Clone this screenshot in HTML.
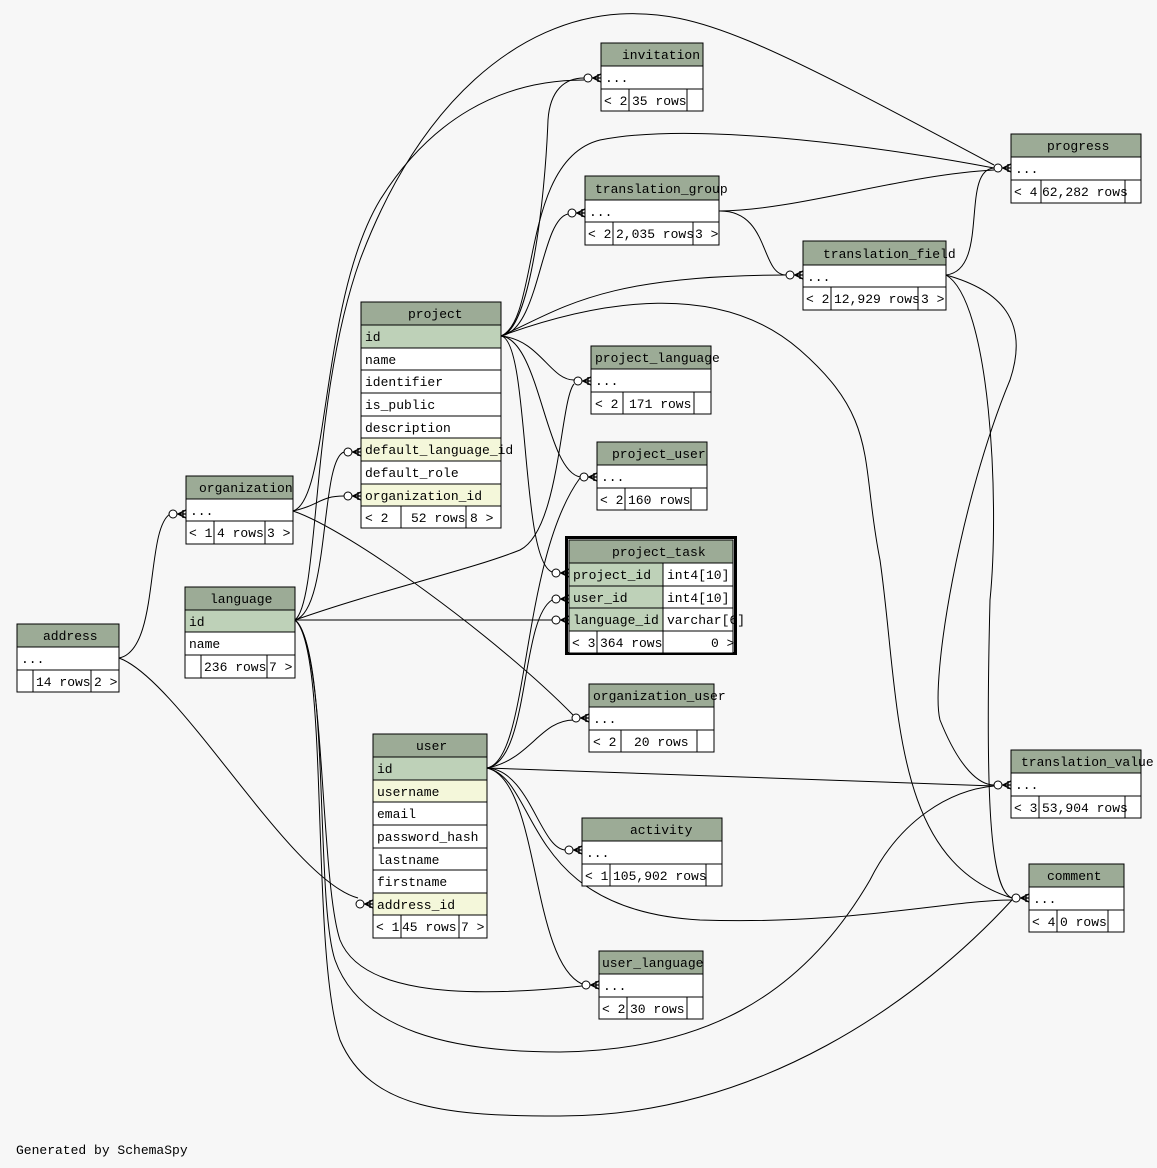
<!DOCTYPE html>
<html><head><meta charset="utf-8"><style>
html,body{margin:0;padding:0;background:#f7f7f7}
svg{display:block}
text{font-family:"Liberation Mono",monospace;font-size:13px;fill:#000}
.h{fill:#9cab96;stroke:#000;stroke-width:1}
.w{fill:#fff;stroke:#000;stroke-width:1}
.k{fill:#bed1b8;stroke:#000;stroke-width:1}
.f{fill:#f4f7da;stroke:#000;stroke-width:1}
.e{fill:none;stroke:#000;stroke-width:1}
</style></head><body>
<svg width="1157" height="1168" viewBox="0 0 1157 1168" xmlns="http://www.w3.org/2000/svg">
<defs>
<g id="m"><circle cx="-13" cy="0" r="4" fill="#fff" stroke="#000"/><path d="M-9,0 L0,0 M-8,0 L0,-4 M-8,0 L0,4 M-3,-4 L-3,4" stroke="#000" fill="none" stroke-width="1.3"/></g>
</defs>
<rect width="1157" height="1168" fill="#f7f7f7"/>
<g class="e">
<path d="M501,336 C530,330 545,200 548,120 C550,90 565,78 584,78"/>
<path d="M501,336 C540,320 520,160 600,140 C700,120 900,150 994,168"/>
<path d="M501,336 C540,330 540,220 568,214"/>
<path d="M501,336 C560,310 600,275 786,275"/>
<path d="M501,336 C540,340 550,380 574,380"/>
<path d="M501,336 C540,340 545,470 580,477"/>
<path d="M501,336 C530,340 520,560 552,572"/>
<path d="M501,336 C600,300 720,280 800,350 C880,420 860,460 880,560 C900,700 890,860 1012,898"/>
<path d="M293,511 C330,500 320,300 380,200 C430,120 500,80 584,80"/>
<path d="M293,511 C320,505 320,496 344,496"/>
<path d="M293,511 C350,530 500,640 574,716"/>
<path d="M295,620 C330,610 320,460 344,452"/>
<path d="M295,620 C380,590 470,570 520,550 C560,530 560,400 574,384"/>
<path d="M295,620 L552,620"/>
<path d="M295,620 C325,640 320,880 340,940 C360,990 450,1000 582,986"/>
<path d="M295,620 C320,600 310,400 360,260 C420,100 520,20 620,14 C700,10 760,40 994,165"/>
<path d="M295,620 C330,650 315,900 335,960 C360,1030 450,1052 560,1052 C700,1050 800,1000 870,880 C900,820 950,790 994,786"/>
<path d="M295,620 C330,650 310,950 340,1040 C370,1110 450,1116 560,1116 C760,1116 920,1000 1012,900"/>
<path d="M119,658 C160,650 145,530 170,514"/>
<path d="M119,658 C180,680 290,880 358,898"/>
<path d="M487,768 C530,760 520,560 580,478"/>
<path d="M487,768 C530,760 520,620 552,600"/>
<path d="M487,768 C530,760 540,720 574,720"/>
<path d="M487,768 L994,786"/>
<path d="M487,768 C530,770 540,850 566,850"/>
<path d="M487,768 C540,780 520,910 700,920 C850,925 950,900 1012,900"/>
<path d="M487,768 C540,780 530,960 582,984"/>
<path d="M719,211 C770,210 760,275 786,275"/>
<path d="M719,211 C800,210 900,175 994,170"/>
<path d="M946,275 C990,270 960,170 994,168"/>
<path d="M946,275 C1000,290 1030,320 1010,380 C960,500 930,680 940,720 C960,770 980,785 994,785"/>
<path d="M946,275 C990,300 1000,500 990,600 C985,800 990,890 1012,898"/>
</g>
<use href="#m" x="601" y="78"/>
<use href="#m" x="1011" y="168"/>
<use href="#m" x="585" y="213"/>
<use href="#m" x="803" y="275"/>
<use href="#m" x="591" y="381"/>
<use href="#m" x="597" y="477"/>
<use href="#m" x="569" y="573"/>
<use href="#m" x="569" y="599"/>
<use href="#m" x="569" y="620"/>
<use href="#m" x="1029" y="898"/>
<use href="#m" x="361" y="452"/>
<use href="#m" x="361" y="496"/>
<use href="#m" x="186" y="514"/>
<use href="#m" x="373" y="904"/>
<use href="#m" x="589" y="718"/>
<use href="#m" x="582" y="850"/>
<use href="#m" x="599" y="985"/>
<use href="#m" x="1011" y="785"/>

<rect class="h" x="601" y="43" width="102" height="23"/><text x="622" y="59">invitation</text>
<rect class="w" x="601" y="66" width="102" height="23"/><text x="605" y="82">...</text>
<rect class="w" x="601" y="89" width="28" height="22"/><rect class="w" x="629" y="89" width="58" height="22"/><rect class="w" x="687" y="89" width="16" height="22"/>
<text x="604" y="105">&lt; 2</text><text x="632" y="105">35 rows</text>

<rect class="h" x="1011" y="134" width="130" height="23"/><text x="1047" y="150">progress</text>
<rect class="w" x="1011" y="157" width="130" height="23"/><text x="1015" y="173">...</text>
<rect class="w" x="1011" y="180" width="30" height="23"/><rect class="w" x="1041" y="180" width="84" height="23"/><rect class="w" x="1125" y="180" width="16" height="23"/>
<text x="1014" y="196">&lt; 4</text><text x="1042" y="196">62,282 rows</text>

<rect class="h" x="585" y="176" width="134" height="24"/><text x="595" y="193">translation_group</text>
<rect class="w" x="585" y="200" width="134" height="22"/><text x="589" y="216">...</text>
<rect class="w" x="585" y="222" width="28" height="23"/><rect class="w" x="613" y="222" width="80" height="23"/><rect class="w" x="693" y="222" width="26" height="23"/>
<text x="588" y="238">&lt; 2</text><text x="616" y="238">2,035 rows</text><text x="695" y="238">3 &gt;</text>

<rect class="h" x="803" y="241" width="143" height="24"/><text x="823" y="258">translation_field</text>
<rect class="w" x="803" y="265" width="143" height="22"/><text x="807" y="281">...</text>
<rect class="w" x="803" y="287" width="28" height="23"/><rect class="w" x="831" y="287" width="87" height="23"/><rect class="w" x="918" y="287" width="28" height="23"/>
<text x="806" y="303">&lt; 2</text><text x="834" y="303">12,929 rows</text><text x="921" y="303">3 &gt;</text>

<rect class="h" x="361" y="302" width="140" height="23"/><text x="408" y="318">project</text>
<rect class="k" x="361" y="325" width="140" height="23"/><text x="365" y="341">id</text>
<rect class="w" x="361" y="348" width="140" height="22"/><text x="365" y="364">name</text>
<rect class="w" x="361" y="370" width="140" height="23"/><text x="365" y="386">identifier</text>
<rect class="w" x="361" y="393" width="140" height="23"/><text x="365" y="409">is_public</text>
<rect class="w" x="361" y="416" width="140" height="22"/><text x="365" y="432">description</text>
<rect class="f" x="361" y="438" width="140" height="23"/><text x="365" y="454">default_language_id</text>
<rect class="w" x="361" y="461" width="140" height="23"/><text x="365" y="477">default_role</text>
<rect class="f" x="361" y="484" width="140" height="22"/><text x="365" y="500">organization_id</text>
<rect class="w" x="361" y="506" width="40" height="22"/><rect class="w" x="401" y="506" width="65" height="22"/><rect class="w" x="466" y="506" width="35" height="22"/>
<text x="365" y="522">&lt; 2</text><text x="411" y="522">52 rows</text><text x="470" y="522">8 &gt;</text>

<rect class="h" x="591" y="346" width="120" height="23"/><text x="595" y="362">project_language</text>
<rect class="w" x="591" y="369" width="120" height="23"/><text x="595" y="385">...</text>
<rect class="w" x="591" y="392" width="32" height="22"/><rect class="w" x="623" y="392" width="71" height="22"/><rect class="w" x="694" y="392" width="17" height="22"/>
<text x="595" y="408">&lt; 2</text><text x="629" y="408">171 rows</text>

<rect class="h" x="597" y="442" width="110" height="23"/><text x="612" y="458">project_user</text>
<rect class="w" x="597" y="465" width="110" height="23"/><text x="601" y="481">...</text>
<rect class="w" x="597" y="488" width="28" height="22"/><rect class="w" x="625" y="488" width="66" height="22"/><rect class="w" x="691" y="488" width="16" height="22"/>
<text x="600" y="504">&lt; 2</text><text x="628" y="504">160 rows</text>

<rect x="566.5" y="537.5" width="169" height="116" fill="none" stroke="#000" stroke-width="3"/>
<rect class="h" x="569" y="540" width="164" height="23"/><text x="612" y="556">project_task</text>
<rect class="k" x="569" y="563" width="94" height="23"/><rect class="w" x="663" y="563" width="70" height="23"/><text x="573" y="579">project_id</text><text x="667" y="579">int4[10]</text>
<rect class="k" x="569" y="586" width="94" height="22"/><rect class="w" x="663" y="586" width="70" height="22"/><text x="573" y="602">user_id</text><text x="667" y="602">int4[10]</text>
<rect class="k" x="569" y="608" width="94" height="23"/><rect class="w" x="663" y="608" width="70" height="23"/><text x="573" y="624">language_id</text><text x="667" y="624">varchar[6]</text>
<rect class="w" x="569" y="631" width="28" height="22"/><rect class="w" x="597" y="631" width="66" height="22"/><rect class="w" x="663" y="631" width="70" height="22"/>
<text x="572" y="647">&lt; 3</text><text x="600" y="647">364 rows</text><text x="711" y="647">0 &gt;</text>

<rect class="h" x="186" y="476" width="107" height="23"/><text x="199" y="492">organization</text>
<rect class="w" x="186" y="499" width="107" height="22"/><text x="190" y="515">...</text>
<rect class="w" x="186" y="521" width="28" height="23"/><rect class="w" x="214" y="521" width="51" height="23"/><rect class="w" x="265" y="521" width="28" height="23"/>
<text x="189" y="537">&lt; 1</text><text x="217" y="537">4 rows</text><text x="267" y="537">3 &gt;</text>

<rect class="h" x="185" y="587" width="110" height="23"/><text x="210" y="603">language</text>
<rect class="k" x="185" y="610" width="110" height="22"/><text x="189" y="626">id</text>
<rect class="w" x="185" y="632" width="110" height="23"/><text x="189" y="648">name</text>
<rect class="w" x="185" y="655" width="16" height="23"/><rect class="w" x="201" y="655" width="66" height="23"/><rect class="w" x="267" y="655" width="28" height="23"/>
<text x="204" y="671">236 rows</text><text x="269" y="671">7 &gt;</text>

<rect class="h" x="17" y="624" width="102" height="23"/><text x="43" y="640">address</text>
<rect class="w" x="17" y="647" width="102" height="23"/><text x="21" y="663">...</text>
<rect class="w" x="17" y="670" width="16" height="22"/><rect class="w" x="33" y="670" width="58" height="22"/><rect class="w" x="91" y="670" width="28" height="22"/>
<text x="36" y="686">14 rows</text><text x="94" y="686">2 &gt;</text>

<rect class="h" x="589" y="684" width="125" height="23"/><text x="593" y="700">organization_user</text>
<rect class="w" x="589" y="707" width="125" height="23"/><text x="593" y="723">...</text>
<rect class="w" x="589" y="730" width="32" height="22"/><rect class="w" x="621" y="730" width="76" height="22"/><rect class="w" x="697" y="730" width="17" height="22"/>
<text x="593" y="746">&lt; 2</text><text x="634" y="746">20 rows</text>

<rect class="h" x="373" y="734" width="114" height="23"/><text x="416" y="750">user</text>
<rect class="k" x="373" y="757" width="114" height="23"/><text x="377" y="773">id</text>
<rect class="f" x="373" y="780" width="114" height="22"/><text x="377" y="796">username</text>
<rect class="w" x="373" y="802" width="114" height="23"/><text x="377" y="818">email</text>
<rect class="w" x="373" y="825" width="114" height="23"/><text x="377" y="841">password_hash</text>
<rect class="w" x="373" y="848" width="114" height="22"/><text x="377" y="864">lastname</text>
<rect class="w" x="373" y="870" width="114" height="23"/><text x="377" y="886">firstname</text>
<rect class="f" x="373" y="893" width="114" height="22"/><text x="377" y="909">address_id</text>
<rect class="w" x="373" y="915" width="28" height="23"/><rect class="w" x="401" y="915" width="58" height="23"/><rect class="w" x="459" y="915" width="28" height="23"/>
<text x="376" y="931">&lt; 1</text><text x="402" y="931">45 rows</text><text x="461" y="931">7 &gt;</text>

<rect class="h" x="1011" y="750" width="130" height="23"/><text x="1021" y="766">translation_value</text>
<rect class="w" x="1011" y="773" width="130" height="23"/><text x="1015" y="789">...</text>
<rect class="w" x="1011" y="796" width="28" height="22"/><rect class="w" x="1039" y="796" width="86" height="22"/><rect class="w" x="1125" y="796" width="16" height="22"/>
<text x="1014" y="812">&lt; 3</text><text x="1042" y="812">53,904 rows</text>

<rect class="h" x="582" y="818" width="140" height="23"/><text x="630" y="834">activity</text>
<rect class="w" x="582" y="841" width="140" height="23"/><text x="586" y="857">...</text>
<rect class="w" x="582" y="864" width="28" height="22"/><rect class="w" x="610" y="864" width="96" height="22"/><rect class="w" x="706" y="864" width="16" height="22"/>
<text x="585" y="880">&lt; 1</text><text x="613" y="880">105,902 rows</text>

<rect class="h" x="1029" y="864" width="95" height="23"/><text x="1047" y="880">comment</text>
<rect class="w" x="1029" y="887" width="95" height="23"/><text x="1033" y="903">...</text>
<rect class="w" x="1029" y="910" width="28" height="22"/><rect class="w" x="1057" y="910" width="51" height="22"/><rect class="w" x="1108" y="910" width="16" height="22"/>
<text x="1032" y="926">&lt; 4</text><text x="1060" y="926">0 rows</text>

<rect class="h" x="599" y="951" width="104" height="23"/><text x="602" y="967">user_language</text>
<rect class="w" x="599" y="974" width="104" height="23"/><text x="603" y="990">...</text>
<rect class="w" x="599" y="997" width="28" height="22"/><rect class="w" x="627" y="997" width="60" height="22"/><rect class="w" x="687" y="997" width="16" height="22"/>
<text x="602" y="1013">&lt; 2</text><text x="630" y="1013">30 rows</text>

<text x="16" y="1154">Generated by SchemaSpy</text>
</svg>
</body></html>
